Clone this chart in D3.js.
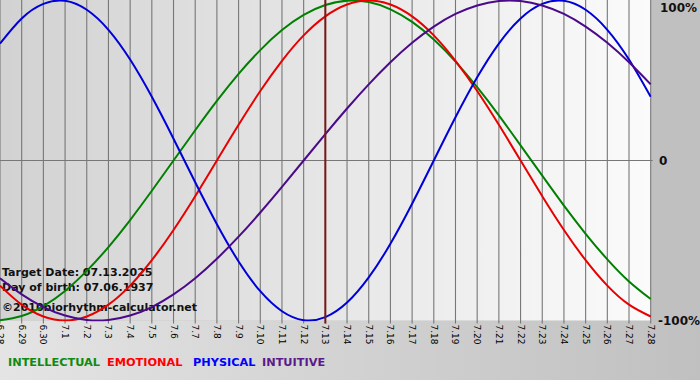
<!DOCTYPE html>
<html><head><meta charset="utf-8">
<script src="https://cdn.jsdelivr.net/npm/d3@7"></script>
<style>html,body{margin:0;padding:0;background:#c0c0c0;}svg{display:block;}</style>
</head><body>
<svg id="chart" width="700" height="380"></svg>
<script>
const dates = ["6.28","6.29","6.30","7.1","7.2","7.3","7.4","7.5","7.6","7.7","7.8","7.9","7.10","7.11","7.12","7.13","7.14","7.15","7.16","7.17","7.18","7.19","7.20","7.21","7.22","7.23","7.24","7.25","7.26","7.27","7.28"];
const intellectual = [-0.999,-0.972,-0.910,-0.815,-0.690,-0.541,-0.372,-0.189,0.000,0.189,0.372,0.541,0.690,0.815,0.910,0.972,0.999,0.990,0.945,0.866,0.756,0.618,0.458,0.282,0.095,-0.095,-0.282,-0.458,-0.618,-0.756,-0.866];
const emotional = [-0.782,-0.901,-0.975,-1.000,-0.975,-0.901,-0.782,-0.623,-0.434,-0.223,0.000,0.223,0.434,0.623,0.782,0.901,0.975,1.000,0.975,0.901,0.782,0.623,0.434,0.223,0.000,-0.223,-0.434,-0.623,-0.782,-0.901,-0.975];
const physical = [0.731,0.888,0.979,0.998,0.942,0.817,0.631,0.398,0.136,-0.136,-0.398,-0.631,-0.817,-0.942,-0.998,-0.979,-0.888,-0.731,-0.520,-0.270,0.000,0.270,0.520,0.731,0.888,0.979,0.998,0.942,0.817,0.631,0.398];
const intuitive = [-0.736,-0.837,-0.916,-0.969,-0.997,-0.997,-0.969,-0.916,-0.837,-0.736,-0.614,-0.476,-0.325,-0.165,0.000,0.165,0.325,0.476,0.614,0.736,0.837,0.916,0.969,0.997,0.997,0.969,0.916,0.837,0.736,0.614,0.476];
const seriesNames = ["INTELLECTUAL","EMOTIONAL","PHYSICAL","INTUITIVE"];
const seriesColors = ["#008000","#e80000","#0000d8","#4b0a8a"];
const legendColors = ["#108a10","#ff0000","#0000ff","#5a1a8c"];
const yTickValues = [1, 0, -1];
const yTickLabels = ["100%", "0", "-100%"];
const targetDate = "7.13";
const infoLines = ["Target Date: 07.13.2025", "Day of birth: 07.06.1937", "\u00A92010biorhythm-calculator.net"];

const svg = d3.select("#chart");
const W = 700, H = 380;
const plotL = 0, plotR = 650.7, plotT = 0.5, plotB = 320.5;

const defs = svg.append("defs");
const gPlot = defs.append("linearGradient").attr("id","plotGrad").attr("x1","0").attr("x2","1").attr("y1","0").attr("y2","0");
gPlot.append("stop").attr("offset","0").attr("stop-color","#d2d2d2");
gPlot.append("stop").attr("offset","0.5").attr("stop-color","#e6e6e6");
gPlot.append("stop").attr("offset","1").attr("stop-color","#fbfbfb");
const gBot = defs.append("linearGradient").attr("id","botGrad").attr("x1","0").attr("x2","1").attr("y1","0").attr("y2","0");
gBot.append("stop").attr("offset","0").attr("stop-color","#e4e4e4");
gBot.append("stop").attr("offset","1").attr("stop-color","#c0c0c0");
defs.append("clipPath").attr("id","clip").append("rect")
  .attr("x",plotL).attr("y",0).attr("width",plotR-plotL+1).attr("height",plotB+1);

svg.append("rect").attr("width",W).attr("height",H).attr("fill","#c0c0c0");
svg.append("rect").attr("x",0).attr("y",plotB).attr("width",W).attr("height",H-plotB).attr("fill","url(#botGrad)");
svg.append("rect").attr("x",plotL).attr("y",0).attr("width",plotR-plotL).attr("height",plotB).attr("fill","url(#plotGrad)");

const x = d3.scalePoint().domain(dates).range([plotL, plotR]);
const y = d3.scaleLinear().domain([-1,1]).range([plotB, plotT]);

// vertical grid lines + ticks
svg.append("g").selectAll("line").data(dates).join("line")
  .attr("x1",d=>x(d)).attr("x2",d=>x(d)).attr("y1",0).attr("y2",plotB+3)
  .attr("stroke","#777").attr("stroke-width",1.1);
// zero line
svg.append("line").attr("x1",plotL).attr("x2",plotR+2).attr("y1",y(0)).attr("y2",y(0))
  .attr("stroke","#777").attr("stroke-width",1.1);

// x tick labels
svg.append("g").selectAll("text").data(dates).join("text")
  .attr("transform",d=>`translate(${x(d)},${plotB+4}) rotate(90)`)
  .attr("dominant-baseline","central")
  .attr("font-family","DejaVu Sans, Verdana, sans-serif").attr("font-size",9)
  .attr("fill","#000").text(d=>d);

// right y labels
svg.append("g").selectAll("text").data(yTickValues).join("text")
  .attr("x",(d,i)=> i===1 ? 659 : (i===0 ? 660 : 658))
  .attr("y",d=>Math.min(Math.max(y(d), 8), 322))
  .attr("dominant-baseline","central")
  .attr("font-family","DejaVu Sans, Verdana, sans-serif").attr("font-weight","bold").attr("font-size",12)
  .attr("fill","#111").text((d,i)=>yTickLabels[i]);

// info text
svg.append("g").selectAll("text").data(infoLines).join("text")
  .attr("x",2).attr("y",(d,i)=>[276,291,311][i])
  .attr("font-family","DejaVu Sans, Verdana, sans-serif").attr("font-weight","bold").attr("font-size",11)
  .attr("fill","#111").text(d=>d);

// curves
const line = d3.line().x((v,i)=>x(dates[i])).y(v=>y(v)).curve(d3.curveNatural);
const gC = svg.append("g").attr("clip-path","url(#clip)");
[intellectual, emotional, physical, intuitive].forEach((s,k)=>{
  gC.append("path").attr("d",line(s)).attr("fill","none")
    .attr("stroke",seriesColors[k]).attr("stroke-width",2);
});

// target line
svg.append("line").attr("x1",x(targetDate)).attr("x2",x(targetDate)).attr("y1",0).attr("y2",plotB+3)
  .attr("stroke","#7a1818").attr("stroke-width",2);

// legend
const legX = [8,107,193,262];
svg.append("g").selectAll("text").data(seriesNames).join("text")
  .attr("x",(d,i)=>legX[i]).attr("y",366)
  .attr("font-family","DejaVu Sans, Verdana, sans-serif").attr("font-weight","bold").attr("font-size",11.3)
  .attr("fill",(d,i)=>legendColors[i]).text(d=>d);
</script>
</body></html>
